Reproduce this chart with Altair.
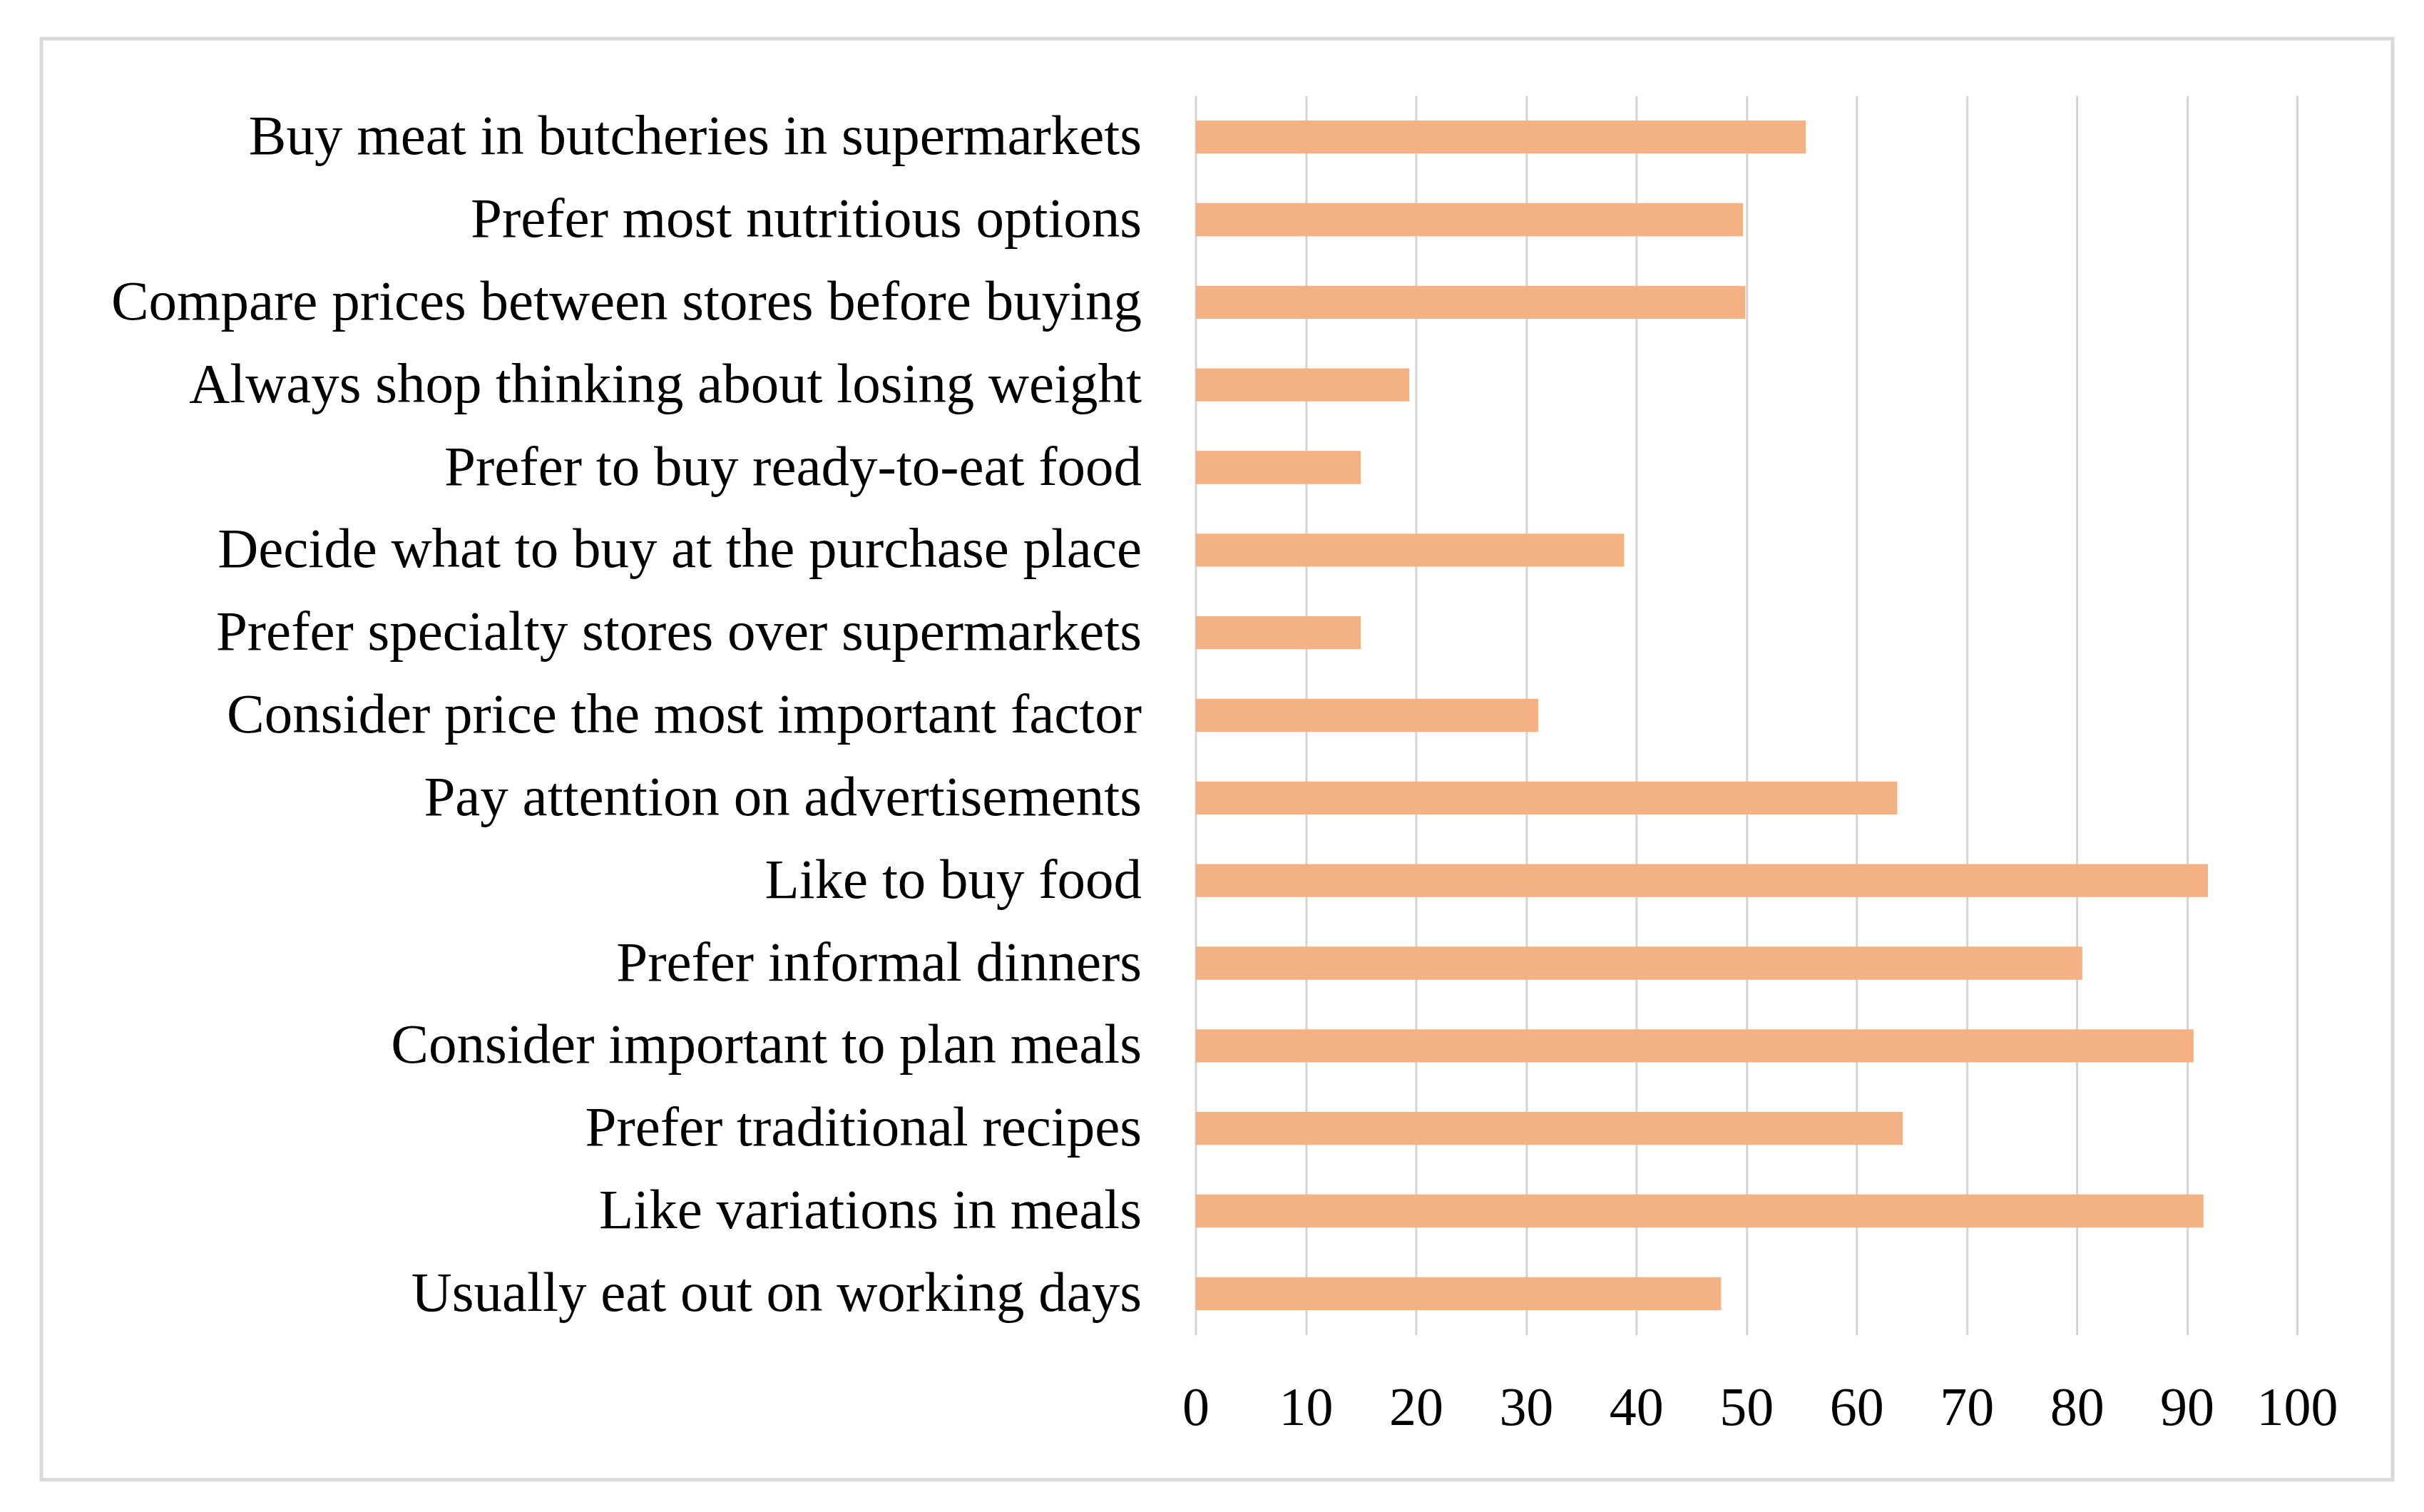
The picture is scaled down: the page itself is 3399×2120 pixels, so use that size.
import altair as alt
import pandas as pd

categories = [
    "Buy meat in butcheries in supermarkets",
    "Prefer most nutritious options",
    "Compare prices between stores before buying",
    "Always shop thinking about losing weight",
    "Prefer to buy ready-to-eat food",
    "Decide what to buy at the purchase place",
    "Prefer specialty stores over supermarkets",
    "Consider price the most important factor",
    "Pay attention on advertisements",
    "Like to buy food",
    "Prefer informal dinners",
    "Consider important to plan meals",
    "Prefer traditional recipes",
    "Like variations in meals",
    "Usually eat out on working days",
]
values = [55.4, 49.7, 49.9, 19.4, 15.0, 38.9, 15.0, 31.1,
          63.7, 91.9, 80.5, 90.6, 64.2, 91.5, 47.7]
x_ticks = [0, 10, 20, 30, 40, 50, 60, 70, 80, 90, 100]

df = pd.DataFrame({"category": categories, "value": values})

FONT = "Liberation Serif"
W, H = 1545, 1738

bars = alt.Chart(df).mark_bar(color="#F4B183").encode(
    x=alt.X("value:Q",
            scale=alt.Scale(domain=[0, 100], nice=False, zero=True),
            axis=alt.Axis(values=x_ticks, title=None, grid=True,
                          gridColor="#d4d4d4", gridWidth=3,
                          domain=False, ticks=False,
                          labelFont=FONT, labelFontSize=76,
                          labelColor="#000000", labelPadding=66,
                          labelFlush=False)),
    y=alt.Y("category:N", sort=categories,
            scale=alt.Scale(paddingInner=0.6, paddingOuter=0.3),
            axis=alt.Axis(title=None, grid=False, domain=False, ticks=False,
                          labelFont=FONT, labelFontSize=79,
                          labelColor="#000000", labelPadding=76,
                          labelLimit=3000)),
)

frame = alt.Chart(pd.DataFrame({"a": [0]})).mark_rect(
    fill="transparent", stroke="#d9d9d9", strokeWidth=5
).encode(
    x=alt.value(58 - 1677), x2=alt.value(3356 - 1677),
    y=alt.value(54 - 134), y2=alt.value(2075 - 134),
)

chart = alt.layer(frame, bars).properties(
    width=W, height=H,
    autosize=alt.AutoSizeParams(type="none"),
    padding={"left": 1669, "top": 126, "right": 170, "bottom": 240},
    background="white",
).configure_view(strokeWidth=0)

chart.save("out.html", embed_options={"renderer": "svg", "actions": False})
